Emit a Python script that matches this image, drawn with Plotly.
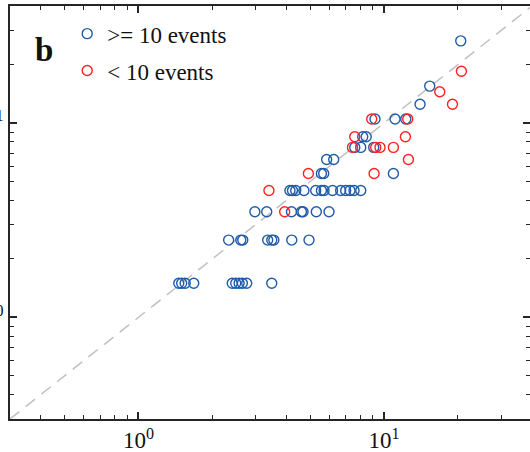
import math
import plotly.graph_objects as go

# >= 10 events (blue)
blue_x = [1.46, 1.50, 1.55, 1.68, 2.41, 2.49, 2.57, 2.65, 2.76, 3.49,
          2.33, 2.61, 2.66, 3.36, 3.49, 3.56, 4.21, 4.95,
          2.98, 3.33, 4.20, 4.61, 4.68, 5.30, 5.97,
          4.14, 4.24, 4.37, 4.72, 5.27, 5.56, 5.70, 6.17, 6.66, 6.98, 7.27, 7.55, 8.04,
          5.56, 5.68, 10.92,
          5.84, 6.24,
          7.60, 8.04, 9.08,
          8.19, 8.46,
          9.19, 11.09, 12.26,
          14.02, 15.35, 20.53]
blue_y = [1.5] * 10 + [2.5] * 8 + [3.5] * 7 + [4.5] * 13 + [5.5] * 3 + [6.5] * 2 + \
         [7.5] * 3 + [8.5] * 2 + [10.5] * 3 + [12.5, 15.5, 26.5]

# < 10 events (red)
red_x = [3.94, 3.40, 4.92, 9.11, 12.57, 7.44, 9.25, 9.63, 10.92,
         7.60, 12.22, 8.91, 12.49, 19.0, 16.86, 20.66]
red_y = [3.5, 4.5, 5.5, 5.5, 6.5, 7.5, 7.5, 7.5, 7.5,
         8.5, 8.5, 10.5, 10.5, 12.5, 14.5, 18.5]

# ticks
major_vals = [1, 10]
major_text = ["10<sup>0</sup>", "10<sup>1</sup>"]
minor_vals = [0.4, 0.5, 0.6, 0.7, 0.8, 0.9, 2, 3, 4, 5, 6, 7, 8, 9, 20, 30]

axis_min, axis_max = 0.3, 40
diag = [axis_min, axis_max]

BLUE = "#1f5ba8"
RED = "#ff2020"
FONT = "Liberation Serif"

fig = go.Figure()
fig.add_trace(go.Scatter(x=diag, y=diag, mode="lines", showlegend=False,
                         line=dict(color="#c0c0c0", width=1.5, dash="12px,8px"),
                         hoverinfo="skip"))
fig.add_trace(go.Scatter(x=blue_x, y=blue_y, mode="markers", name=">= 10 events",
                         legendgroup="a",
                         marker=dict(symbol="circle-open", size=10, color=BLUE,
                                     line=dict(width=1.4, color=BLUE))))
fig.add_trace(go.Scatter(x=red_x, y=red_y, mode="markers", name="< 10 events",
                         legendgroup="b",
                         marker=dict(symbol="circle-open", size=10, color=RED,
                                     line=dict(width=1.4, color=RED))))

axis_common = dict(type="log", showgrid=False, zeroline=False, showline=True,
                   linecolor="#262626", linewidth=1.6, mirror="ticks",
                   ticks="inside", ticklen=7, tickwidth=1.5, tickcolor="#262626",
                   tickmode="array", tickvals=major_vals, ticktext=major_text,
                   tickfont=dict(family=FONT, size=23, color="#111"),
                   minor=dict(ticks="inside", ticklen=4, tickwidth=1.3,
                              tickcolor="#262626", tickmode="array",
                              tickvals=minor_vals, showgrid=False))

fig.update_xaxes(range=[math.log10(axis_min), math.log10(axis_min) + 520 / 245.6], **axis_common)
fig.update_yaxes(range=[math.log10(axis_min), math.log10(axis_min) + 413 / 194.3], **axis_common)

fig.add_annotation(text="<b>b</b>", xref="paper", yref="paper", x=0.065, y=0.894,
                   xanchor="center", yanchor="middle",
                   showarrow=False, font=dict(family=FONT, size=33, color="#111"))

fig.update_layout(
    width=530, height=452,
    margin=dict(l=10, r=0, t=6, b=33, autoexpand=False),
    paper_bgcolor="white", plot_bgcolor="white",
    showlegend=True,
    legend=dict(x=0.11, y=0.985, xanchor="left", yanchor="top",
                bgcolor="rgba(0,0,0,0)", tracegroupgap=4, traceorder="grouped",
                font=dict(family=FONT, size=23, color="#111")),
)

fig.write_html("out.html")
